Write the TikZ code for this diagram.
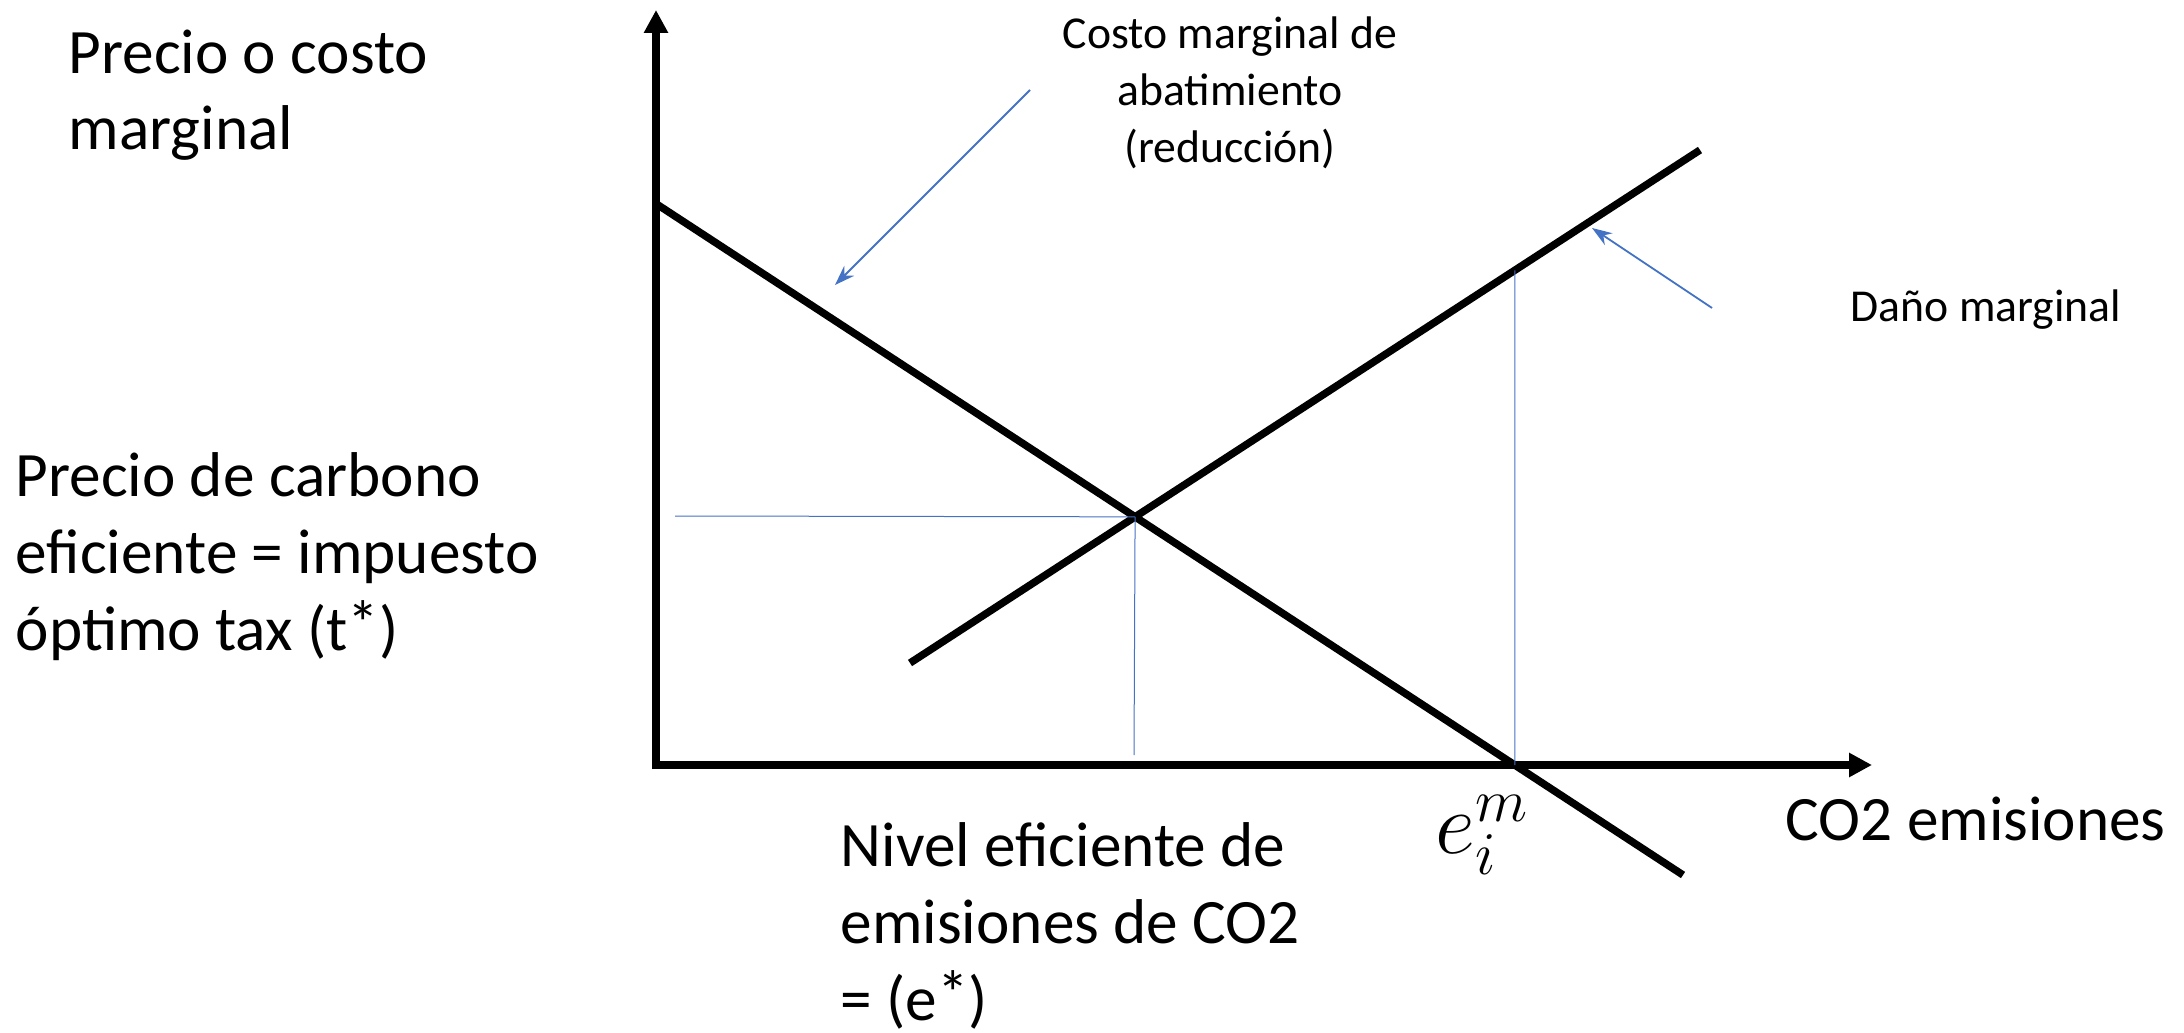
\documentclass[tikz,border=0pt]{standalone}
\usepackage{fontspec}
\setmainfont{Carlito}
\usepackage{xcolor}
\usepackage{tikz}
\usetikzlibrary{arrows.meta, positioning, calc}
\definecolor{guideblue}{HTML}{4472C4}

\begin{document}
\begin{tikzpicture}[
    x=0.1mm, y=-0.1mm,
    big/.style={font=\fontsize{18}{21.9}\selectfont, align=left, inner sep=0pt},
    small/.style={font=\fontsize{13}{16.3}\selectfont, align=center, inner sep=0pt},
    axis/.style={-{Triangle[length=2.3mm, width=2.3mm]}, line width=0.8mm},
    curve/.style={line width=0.75mm},
    guide/.style={draw=guideblue, line width=0.1mm},
    pointer/.style={-{Stealth[length=2mm, width=1.4mm]}, draw=guideblue, fill=guideblue, line width=0.18mm}
]
\useasboundingbox (0,0) rectangle (2184,1033);

\node[big, anchor=base west] (ylabel) at (68,150) {Precio o costo\\marginal};
\node[big, anchor=base west] (tlabel) at (15,650) {Precio de carbono\\eficiente = impuesto\\óptimo tax (t\raisebox{.15ex}{*})};
\node[small, anchor=base] (maclabel) at (1230,163) {Costo marginal de\\abatimiento\\(reducción)};
\node[small, anchor=base west] (mdlabel) at (1850,322) {Daño marginal};
\node[big, anchor=base west] (xlabel) at (1785,840) {CO2 emisiones};
\node[big, anchor=base west] (elabel) at (840,1020) {Nivel eficiente de\\emisiones de CO2\\= (e\raisebox{.15ex}{*})};
\node[anchor=base west, inner sep=0pt, font=\fontsize{26}{30}\selectfont] (emlabel) at (1435,853) {$e_i^m$};

\coordinate (ybot) at (656,769);
\coordinate (ytop) at (656,10);
\coordinate (xbeg) at (660,765);
\coordinate (xend) at (1872,765);
\coordinate (mac1) at (658,205);
\coordinate (mac2) at (1683,875);
\coordinate (md1) at (910,663);
\coordinate (md2) at (1700,150);

\draw[axis] (ybot) -- (ytop);
\draw[axis] (xbeg) -- (xend);
\draw[curve] (mac1) -- (mac2);
\draw[curve] (md1) -- (md2);

\coordinate (eq) at (intersection of mac1--mac2 and md1--md2);
\coordinate (ecut) at (intersection of mac1--mac2 and xbeg--xend);
\coordinate (eup) at ($(ecut)+(0,-100)$);
\coordinate (ecuttop) at (intersection of md1--md2 and ecut--eup);
\coordinate (tstar) at (675,516);
\coordinate (estar) at (1134,755);

\draw[guide] (tstar) -- (eq);
\draw[guide] (eq) -- (estar);
\draw[guide] (ecuttop) -- (ecut);

\coordinate (macfrom) at (1030,90);
\coordinate (macto) at (835,285);
\coordinate (mdfrom) at (1712,308);
\coordinate (mdto) at (1592,228);
\draw[pointer] (macfrom) -- (macto);
\draw[pointer] (mdfrom) -- (mdto);

\end{tikzpicture}
\end{document}
